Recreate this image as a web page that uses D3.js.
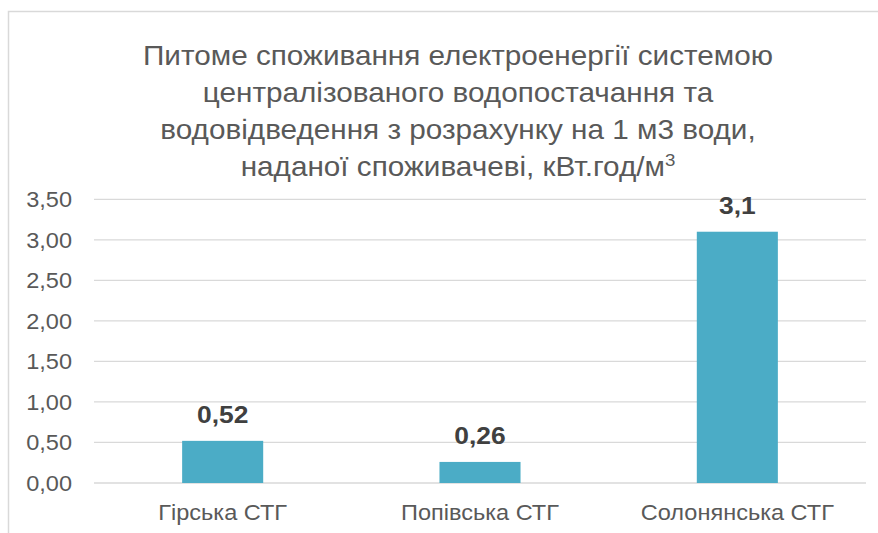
<!DOCTYPE html>
<html>
<head>
<meta charset="utf-8">
<script src="https://cdn.jsdelivr.net/npm/d3@7"></script>
<style>
  body { margin: 0; background: #fff; }
  svg { display: block; font-family: "Liberation Sans", Arial, sans-serif; }
</style>
</head>
<body>
<script>
const categories = ["Гірська СТГ", "Попівська СТГ", "Солонянська СТГ"];
const values = [0.52, 0.26, 3.1];
const valueLabels = ["0,52", "0,26", "3,1"];
const yTicks = [0, 0.5, 1, 1.5, 2, 2.5, 3, 3.5];
const titleLines = [
  "Питоме споживання електроенергії системою",
  "централізованого водопостачання та",
  "водовідведення з розрахунку на 1 м3 води,",
  "наданої споживачеві, кВт.год/м"
];

const width = 878, height = 533;
const svg = d3.select("body").append("svg")
  .attr("width", width).attr("height", height);

// the source picture is a bit stretched sideways, so text gets a small x-scale
const stretch = 1.1;

/* chart frame (only left and top edges are visible) */
svg.append("path")
  .attr("d", "M8.5,533 V11.5 H878")
  .attr("fill", "none")
  .attr("stroke", "#d9d9d9")
  .attr("stroke-width", 1.5);

/* title */
titleLines.forEach((t, i) => {
  const txt = svg.append("g")
    .attr("transform", `translate(458,${65 + i * 37}) scale(${stretch},1)`)
    .append("text")
    .attr("text-anchor", "middle")
    .attr("fill", "#595959")
    .attr("font-size", 27)
    .text(t);
  if (i === titleLines.length - 1) {
    txt.append("tspan").attr("font-size", 17).attr("dy", -10).text("3");
  }
});

const x = d3.scaleBand().domain(categories).range([94, 866]);
const y = d3.scaleLinear().domain([0, 3.5]).range([483, 199.3]);
const barW = x.bandwidth() * 0.315;

/* gridlines */
svg.append("g").selectAll("line").data(yTicks).enter().append("line")
  .attr("x1", 94).attr("x2", 866)
  .attr("y1", d => y(d)).attr("y2", d => y(d))
  .attr("stroke", "#d9d9d9")
  .attr("stroke-width", 1.3);

/* y tick labels */
const fmt = d => d3.format(".2f")(d).replace(".", ",");
svg.append("g").selectAll("g").data(yTicks).enter().append("g")
  .attr("transform", d => `translate(72,${y(d)}) scale(1.07,1)`)
  .append("text")
  .attr("dy", "0.36em")
  .attr("text-anchor", "end")
  .attr("fill", "#595959")
  .attr("font-size", 22)
  .text(fmt);

/* bars */
svg.append("g").selectAll("rect").data(values).enter().append("rect")
  .attr("x", (d, i) => x(categories[i]) + x.bandwidth() / 2 - barW / 2)
  .attr("width", barW)
  .attr("y", d => y(d))
  .attr("height", d => y(0) - y(d))
  .attr("fill", "#4bacc6");

/* value labels */
svg.append("g").selectAll("g").data(values).enter().append("g")
  .attr("transform", (d, i) =>
    `translate(${x(categories[i]) + x.bandwidth() / 2},${y(d) - 18}) scale(${stretch},1)`)
  .append("text")
  .attr("text-anchor", "middle")
  .attr("fill", "#404040")
  .attr("font-size", 24)
  .attr("font-weight", "bold")
  .text((d, i) => valueLabels[i]);

/* category labels */
svg.append("g").selectAll("g").data(categories).enter().append("g")
  .attr("transform", d => `translate(${x(d) + x.bandwidth() / 2},519.5) scale(1.07,1)`)
  .append("text")
  .attr("text-anchor", "middle")
  .attr("fill", "#595959")
  .attr("font-size", 22)
  .text(d => d);
</script>
</body>
</html>
